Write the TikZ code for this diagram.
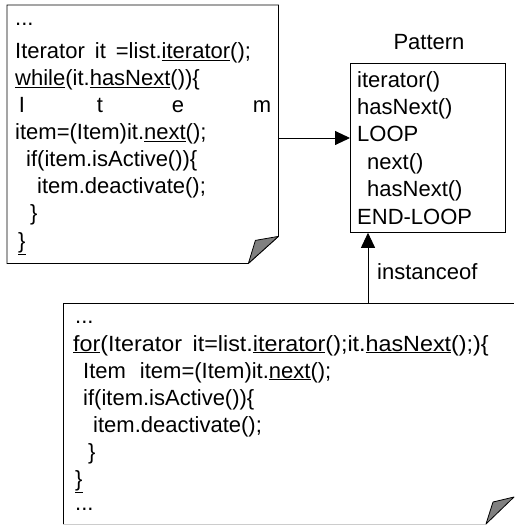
\documentclass[tikz,border=0pt]{standalone}
\usepackage{fontspec}
\setmainfont{Liberation Sans}
\usetikzlibrary{arrows.meta}
\newcommand\codefont{\fontsize{22}{26}\selectfont\spaceskip=10pt\relax}
\newcommand\ul[1]{\underline{#1}}
\begin{document}
\begin{tikzpicture}[x=1pt,y=-1pt,
  line/.style={anchor=base west,inner sep=0pt,font=\codefont},
  letter/.style={anchor=base,inner sep=0pt,font=\codefont},
  outline/.style={draw=black,line width=0.8pt},
  curl/.style={draw=black,line width=0.8pt,fill=gray,line join=round},
  arr/.style={line width=0.9pt,-{Triangle[length=15pt,width=14pt]}}]
\useasboundingbox (0,0) rectangle (514,526);
% ---- top note
\node[inner sep=0pt,minimum width=271pt,minimum height=258pt,anchor=north west] (note1) at (7,5) {};
\coordinate (c1) at ([yshift=27pt]note1.south east);
\coordinate (c2) at ([xshift=-30pt]note1.south east);
\coordinate (c3) at ([xshift=-23pt,yshift=23pt]note1.south east);
\draw[outline,fill=white] (note1.north west) -- (note1.north east) -- (c1)
  -- (c2) -- (note1.south west) -- cycle;
\draw[curl] (c2) -- (c3) -- (c1) -- cycle;
\node[line] (a0) at (15,26) {...};
\node[line] (a1) at (15,59) {Iterator it =list.\ul{iterator}();};
\node[line] (a2) at (15,86) {\ul{while}(it.\ul{hasNext}()){\{}};
\node[letter] (a3a) at (22,113) {I};
\node[letter] (a3b) at (100,113) {t};
\node[letter] (a3c) at (178,113) {e};
\node[letter] (a3d) at (262,113) {m};
\node[line] (a4) at (15,140) {item=(Item)it.\ul{next}();};
\node[line] (a5) at (26,167) {if(item.isActive()){\{}};
\node[line] (a6) at (37,194) {item.deactivate();};
\node[line] (a7) at (30,221) {\}};
\node[line] (a8) at (18,248) {\ul{\}}};
% ---- pattern box
\node[outline,inner sep=0pt,minimum width=155pt,minimum height=169pt,anchor=north west] (pattern) at (350,63) {};
\node[anchor=base,inner sep=0pt,font=\codefont] (ptitle) at (429,50) {Pattern};
\node[line] (p1) at (357,88) {iterator()};
\node[line] (p2) at (357,115) {hasNext()};
\node[line] (p3) at (357,142) {LOOP};
\node[line] (p4) at (367,170) {next()};
\node[line] (p5) at (367,197) {hasNext()};
\node[line] (p6) at (357,225) {END-LOOP};
% ---- bottom note
\node[inner sep=0pt,minimum width=451pt,minimum height=221pt,anchor=north west] (note2) at (63,303) {};
\draw[outline] (note2.south west) -- (note2.north west) -- (note2.north east);
\draw[draw=gray!40,line width=0.8pt] (63,524) -- (486,524);
\draw[curl] (486,524) -- (493,502) -- (514,497) -- cycle;
\node[line] (b0) at (75,323) {...};
\node[line] (b1) at (73,351) {\scalebox{1.06}[1]{\ul{for}(Iterator it=list.\ul{iterator}();it.\ul{hasNext}();){\{}}};
\node[line] (b2) at (83,378) {Item\hspace{4pt} item=(Item)it.\ul{next}();};
\node[line] (b3) at (83,405) {if(item.isActive()){\{}};
\node[line] (b4) at (93,432) {item.deactivate();};
\node[line] (b5) at (88,459) {\}};
\node[line] (b6) at (75,486) {\ul{\}}};
\node[line] (b7) at (75,510) {...};
% ---- connectors
\coordinate (n1r) at (278,138);
\coordinate (n2t) at (368,303);
\draw[arr] (n1r) -- (n1r -| pattern.west);
\draw[arr] (n2t) -- (n2t |- pattern.south);
\node[anchor=base west,inner sep=0pt,font=\codefont] (inst) at (377,279) {instanceof};
\end{tikzpicture}
\end{document}
